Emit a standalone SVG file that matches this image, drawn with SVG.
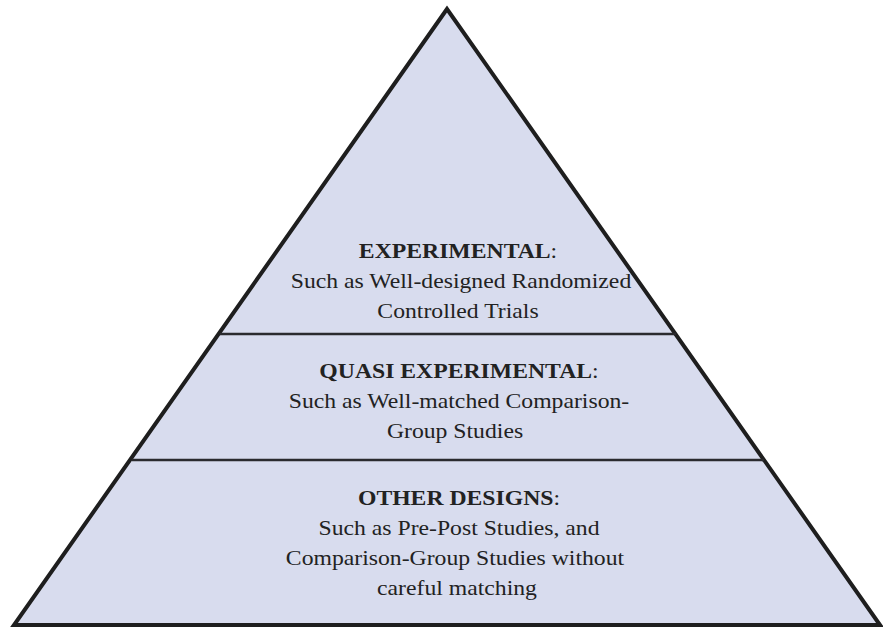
<svg xmlns="http://www.w3.org/2000/svg" width="883" height="629" viewBox="0 0 883 629">
<style>
.t{font-family:"Liberation Serif","Times New Roman",serif;font-size:23.7px;fill:#222;text-anchor:middle}
.b{font-weight:bold}
.div{stroke:#2a2a2e;stroke-width:2.5;fill:none}
</style>
<rect width="883" height="629" fill="#fff"/>
<g id="pyramid">
<polygon points="447,9 14,625 880,625" fill="#d8dcee" stroke="#1e1e1e" stroke-width="4" stroke-linejoin="miter"/>
</g>
<g id="connectors">
<line class="div" x1="220" y1="334" x2="676" y2="334"/>
<line class="div" x1="132" y1="460" x2="764" y2="460"/>
</g>
<g id="experimental">
<g transform="translate(458,258) scale(1,0.92)"><text class="t"><tspan class="b">EXPERIMENTAL</tspan>:</text></g>
<g transform="translate(461,288) scale(1,0.92)"><text class="t">Such as Well-designed Randomized</text></g>
<g transform="translate(458,318) scale(1,0.92)"><text class="t">Controlled Trials</text></g>
</g>
<g id="quasi">
<g transform="translate(459,378) scale(1,0.92)"><text class="t"><tspan class="b">QUASI EXPERIMENTAL</tspan>:</text></g>
<g transform="translate(459,408) scale(1,0.92)"><text class="t">Such as Well-matched Comparison-</text></g>
<g transform="translate(455,438) scale(1,0.92)"><text class="t">Group Studies</text></g>
</g>
<g id="other">
<g transform="translate(459,505) scale(1,0.92)"><text class="t"><tspan class="b">OTHER DESIGNS</tspan>:</text></g>
<g transform="translate(459,535) scale(1,0.92)"><text class="t">Such as Pre-Post Studies, and</text></g>
<g transform="translate(455,565) scale(1,0.92)"><text class="t">Comparison-Group Studies without</text></g>
<g transform="translate(457,595) scale(1,0.92)"><text class="t">careful matching</text></g>
</g>
</svg>
